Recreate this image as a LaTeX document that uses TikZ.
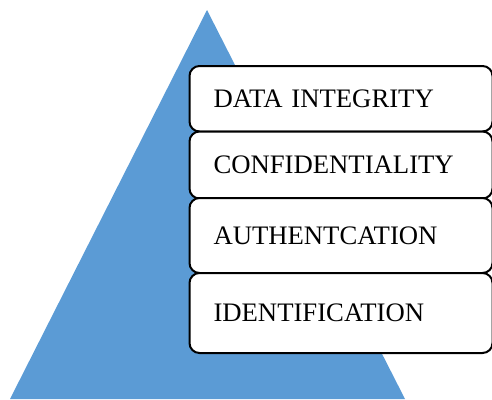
\documentclass[tikz,border=0pt]{standalone}
\usepackage{fontspec}
\setmainfont{Liberation Serif}
\definecolor{pyramid}{HTML}{5B9BD5}
\begin{document}
\begin{tikzpicture}[x=1bp,y=-1bp,
  layer/.style={draw=black, line width=2bp, fill=white, rounded corners=10bp,
    anchor=north west, inner xsep=24bp, inner ysep=0pt, text width=255bp, align=left,
    text height=17.5bp, text depth=0pt,
    font=\fontsize{26.8}{30}\selectfont}]
  \useasboundingbox (0,0) rectangle (492,399);
  % background pyramid
  \fill[pyramid] (207,10) -- (405,399) -- (10,399) -- cycle;
  % stacked layers, top to bottom
  \node[layer, minimum height=65.5bp] (integrity) at (188.5,65) {DATA INTEGRITY};
  \node[layer, minimum height=67bp] (confid) at (188.5,130.5) {CONFIDENTIALITY};
  \node[layer, minimum height=75bp] (auth) at (188.5,197) {AUTHENTCATION};
  \node[layer, minimum height=80bp] (ident) at (188.5,272) {IDENTIFICATION};
\end{tikzpicture}
\end{document}
